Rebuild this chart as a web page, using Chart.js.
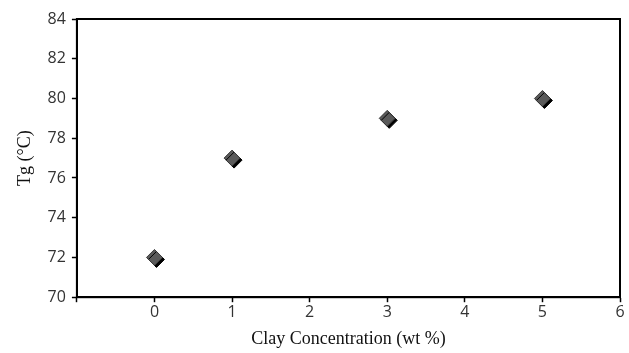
<!DOCTYPE html>
<html><head><meta charset="utf-8">
<script src="https://cdn.jsdelivr.net/npm/chart.js@4/dist/chart.umd.min.js"></script>
<style>html,body{margin:0;padding:0;background:#fff}#wrap{width:629px;height:353px}</style>
</head><body><div id="wrap"><canvas id="c" width="629" height="353"></canvas></div>
<script>
const clayConc = [0, 1, 3, 5];
const tgValues = [72, 77, 79, 80];
const xTicks = [0, 1, 2, 3, 4, 5, 6];
const yTicks = [70, 72, 74, 76, 78, 80, 82, 84];

const frame = {
  id: 'frame',
  afterDraw(chart) {
    const {ctx, chartArea: a} = chart;
    ctx.save();
    ctx.strokeStyle = '#000';
    ctx.lineWidth = 2;
    ctx.strokeRect(a.left, a.top, a.right - a.left, a.bottom - a.top);
    ctx.restore();
  }
};
const shadow = {
  id: 'shadow',
  beforeDatasetDraw(chart) {
    const ctx = chart.ctx;
    ctx.save();
    ctx.shadowColor = 'rgba(0,0,0,1)';
    ctx.shadowOffsetX = 2;
    ctx.shadowOffsetY = 2;
    ctx.shadowBlur = 0;
  },
  afterDatasetDraw(chart) { chart.ctx.restore(); }
};

new Chart(document.getElementById('c'), {
  type: 'scatter',
  data: {
    datasets: [{
      data: clayConc.map((x, i) => ({x, y: tgValues[i]})),
      pointStyle: 'rectRot',
      pointRadius: 8,
      pointBackgroundColor: '#5a5a5a',
      pointBorderColor: '#3a3a3a',
      pointBorderWidth: 1
    }]
  },
  options: {
    responsive: false,
    animation: false,
    events: [],
    layout: {padding: {left: 14, right: 5, top: 19, bottom: 3}},
    plugins: {legend: {display: false}, tooltip: {enabled: false}},
    scales: {
      x: {
        type: 'linear', min: -1, max: 6,
        afterBuildTicks: s => { s.ticks = [-1, ...xTicks].map(v => ({value: v})); },
        ticks: {
          callback: v => v < 0 ? '' : String(v),
          color: '#333', font: {family: 'Open Sans', size: 16}, padding: 1, maxRotation: 0
        },
        grid: {display: true, drawOnChartArea: false, drawTicks: true, tickLength: 5, color: '#000', tickWidth: 1.5},
        border: {display: true, color: '#000', width: 2},
        title: {display: true, text: 'Clay Concentration (wt %)', color: '#111',
          font: {family: 'Liberation Serif', size: 18}, padding: {top: 5, bottom: 0}}
      },
      y: {
        type: 'linear', min: 70, max: 84,
        afterBuildTicks: s => { s.ticks = yTicks.map(v => ({value: v})); },
        ticks: {color: '#333', font: {family: 'Open Sans', size: 16}, padding: 6},
        grid: {display: true, drawOnChartArea: false, drawTicks: true, tickLength: 5, color: '#000', tickWidth: 1.5},
        border: {display: true, color: '#000', width: 2},
        title: {display: true, text: 'Tg (°C)', color: '#111',
          font: {family: 'Liberation Serif', size: 18}, padding: {top: 0, bottom: 6}}
      }
    }
  },
  plugins: [frame, shadow]
});
</script></body></html>
